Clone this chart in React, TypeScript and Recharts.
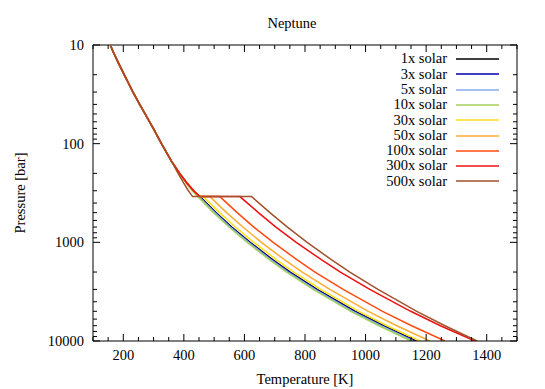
import React from 'react';
import { LineChart, Line, XAxis, YAxis, Legend, ReferenceLine } from 'recharts';

// Pressure levels [bar]
const pUpper = [10, 12, 15, 20, 25, 30, 40, 50, 70, 100, 150];
const pMid = [200, 250, 300, 344];
const pLower = [344, 500, 700, 1000, 1500, 2000, 3000, 5000, 7000, 10000];

// shared upper adiabat [K]
const tUpper = [157, 168, 183, 203, 219, 232, 254, 272, 299, 326, 359];

// around the kink
const tMid1x = [386, 410, 432, 453];
const tMid3x = [386, 409, 431, 451];
const tMid5x = [385, 408, 429, 449];
const tMid10x = [385, 407, 427, 446];
const tMid500x = [381, 399, 415, 429];

// deep part
const tLower1x = [453, 506, 558, 619, 693, 751, 840, 966, 1060, 1168];
const tLower3x = [451, 504, 556, 616, 690, 748, 836, 962, 1055, 1163];
const tLower5x = [449, 502, 553, 614, 687, 744, 833, 958, 1051, 1158];
const tLower10x = [446, 498, 549, 609, 682, 739, 827, 951, 1044, 1150];
const tLower30x = [464, 518, 570, 631, 705, 763, 852, 978, 1071, 1179];
const tLower50x = [486, 541, 595, 656, 732, 791, 882, 1009, 1103, 1212];
const tLower100x = [519, 576, 631, 695, 773, 833, 926, 1056, 1152, 1262];
const tLower300x = [585, 646, 704, 771, 854, 917, 1014, 1149, 1247, 1361];
const tLower500x = [624, 684, 742, 807, 887, 948, 1041, 1169, 1262, 1368];

const xMajorTicks = [200, 400, 600, 800, 1000, 1200, 1400];
const yMajorTicks = [10, 100, 1000, 10000];

const xTicks: number[] = [];
for (let v = 100; v <= 1500; v += 50) xTicks.push(v);
const yTicks: number[] = [];
[10, 100, 1000].forEach((d) => {
  for (let m = 1; m < 10; m++) yTicks.push(d * m);
});
yTicks.push(10000);

const profile = (mid: number[], lower: number[]) => [
  ...pUpper.map((p, i) => ({ t: tUpper[i], p })),
  ...pMid.map((p, i) => ({ t: mid[i], p })),
  ...pLower.map((p, i) => ({ t: lower[i], p })),
];

const series = [
  { name: '1x solar', color: '#000000', data: profile(tMid1x, tLower1x) },
  { name: '3x solar', color: '#0000a8', data: profile(tMid3x, tLower3x) },
  { name: '5x solar', color: '#88aaf0', data: profile(tMid5x, tLower5x) },
  { name: '10x solar', color: '#a4d05c', data: profile(tMid10x, tLower10x) },
  { name: '30x solar', color: '#ffe01a', data: profile(tMid1x, tLower30x) },
  { name: '50x solar', color: '#ffac30', data: profile(tMid1x, tLower50x) },
  { name: '100x solar', color: '#ff4a10', data: profile(tMid1x, tLower100x) },
  { name: '300x solar', color: '#ee1010', data: profile(tMid1x, tLower300x) },
  { name: '500x solar', color: '#a0522d', data: profile(tMid500x, tLower500x) },
];

const W = 545;
const H = 389;
const PLOT_L = 93;
const PLOT_T = 45;
const PLOT_W = 424;
const PLOT_H = 296;
const FONT = '"Liberation Serif", "Times New Roman", Times, "DejaVu Serif", serif';
const FS = 14.5;

const XTick = ({ x, y, payload }: any) => {
  const v = payload.value;
  const major = xMajorTicks.includes(v);
  const len = major ? 7 : 4;
  const top = y - PLOT_H;
  return (
    <g>
      <line x1={x} x2={x} y1={y} y2={y - len} stroke="#000" />
      <line x1={x} x2={x} y1={top} y2={top + len} stroke="#000" />
      {major && (
        <text x={x} y={y + 19} textAnchor="middle" fontFamily={FONT} fontSize={FS} fill="#000">
          {v}
        </text>
      )}
    </g>
  );
};

const YTick = ({ x, y, payload }: any) => {
  const v = payload.value;
  const major = yMajorTicks.includes(v);
  const len = major ? 7 : 4;
  const right = x + PLOT_W;
  return (
    <g>
      <line x1={x} x2={x + len} y1={y} y2={y} stroke="#000" />
      <line x1={right} x2={right - len} y1={y} y2={y} stroke="#000" />
      {major && (
        <text x={x - 9} y={y} dy="0.35em" textAnchor="end" fontFamily={FONT} fontSize={FS} fill="#000">
          {v}
        </text>
      )}
    </g>
  );
};

// legend in series order (gnuplot keeps plot order)
const renderLegend = () => (
  <div style={{ fontFamily: FONT, fontSize: FS }}>
    {series.map((s) => (
      <div key={s.name} style={{ display: 'flex', alignItems: 'center', height: 15.3 }}>
        <span style={{ width: 77, textAlign: 'right', lineHeight: '15.3px' }}>{s.name}</span>
        <svg width={43} height={4} style={{ marginLeft: 9, display: 'block' }}>
          <line x1={0} x2={43} y1={2} y2={2} stroke={s.color} strokeWidth={1.5} />
        </svg>
      </div>
    ))}
  </div>
);

export default function App() {
  return (
    <div style={{ position: 'absolute', left: 0, top: 0, width: W, height: H, background: '#fff' }}>
      <LineChart
        width={W}
        height={H}
        margin={{ top: PLOT_T, right: W - PLOT_L - PLOT_W, bottom: 18, left: PLOT_L - 60 }}
      >
        <XAxis
          type="number"
          dataKey="t"
          domain={[100, 1500]}
          allowDataOverflow
          ticks={xTicks}
          interval={0}
          tickSize={0}
          tickMargin={0}
          height={30}
          tick={<XTick />}
          axisLine={{ stroke: '#000' }}
          tickLine={false}
        />
        <YAxis
          type="number"
          scale="log"
          domain={[10, 10000]}
          reversed
          allowDataOverflow
          ticks={yTicks}
          interval={0}
          tickSize={0}
          tickMargin={0}
          width={60}
          tick={<YTick />}
          axisLine={{ stroke: '#000' }}
          tickLine={false}
        />
        <ReferenceLine y={10} stroke="#000" />
        <ReferenceLine x={1500} stroke="#000" />
        {series.map((s) => (
          <Line
            key={s.name}
            name={s.name}
            data={s.data}
            dataKey="p"
            type="linear"
            stroke={s.color}
            strokeWidth={1.5}
            dot={false}
            isAnimationActive={false}
          />
        ))}
        <Legend
          layout="vertical"
          align="center"
          verticalAlign="middle"
          content={renderLegend}
          wrapperStyle={{ left: 370, top: 51.4, width: 135 }}
        />
      </LineChart>
      <div
        style={{
          position: 'absolute',
          left: 292,
          top: 23,
          transform: 'translate(-50%, -50%)',
          fontFamily: FONT,
          fontSize: FS,
          whiteSpace: 'nowrap',
        }}
      >
        Neptune
      </div>
      <div
        style={{
          position: 'absolute',
          left: 305,
          top: 379,
          transform: 'translate(-50%, -50%)',
          fontFamily: FONT,
          fontSize: FS,
          whiteSpace: 'nowrap',
        }}
      >
        Temperature [K]
      </div>
      <div
        style={{
          position: 'absolute',
          left: 20,
          top: 193,
          transform: 'translate(-50%, -50%) rotate(-90deg)',
          fontFamily: FONT,
          fontSize: FS,
          whiteSpace: 'nowrap',
        }}
      >
        Pressure [bar]
      </div>
    </div>
  );
}
